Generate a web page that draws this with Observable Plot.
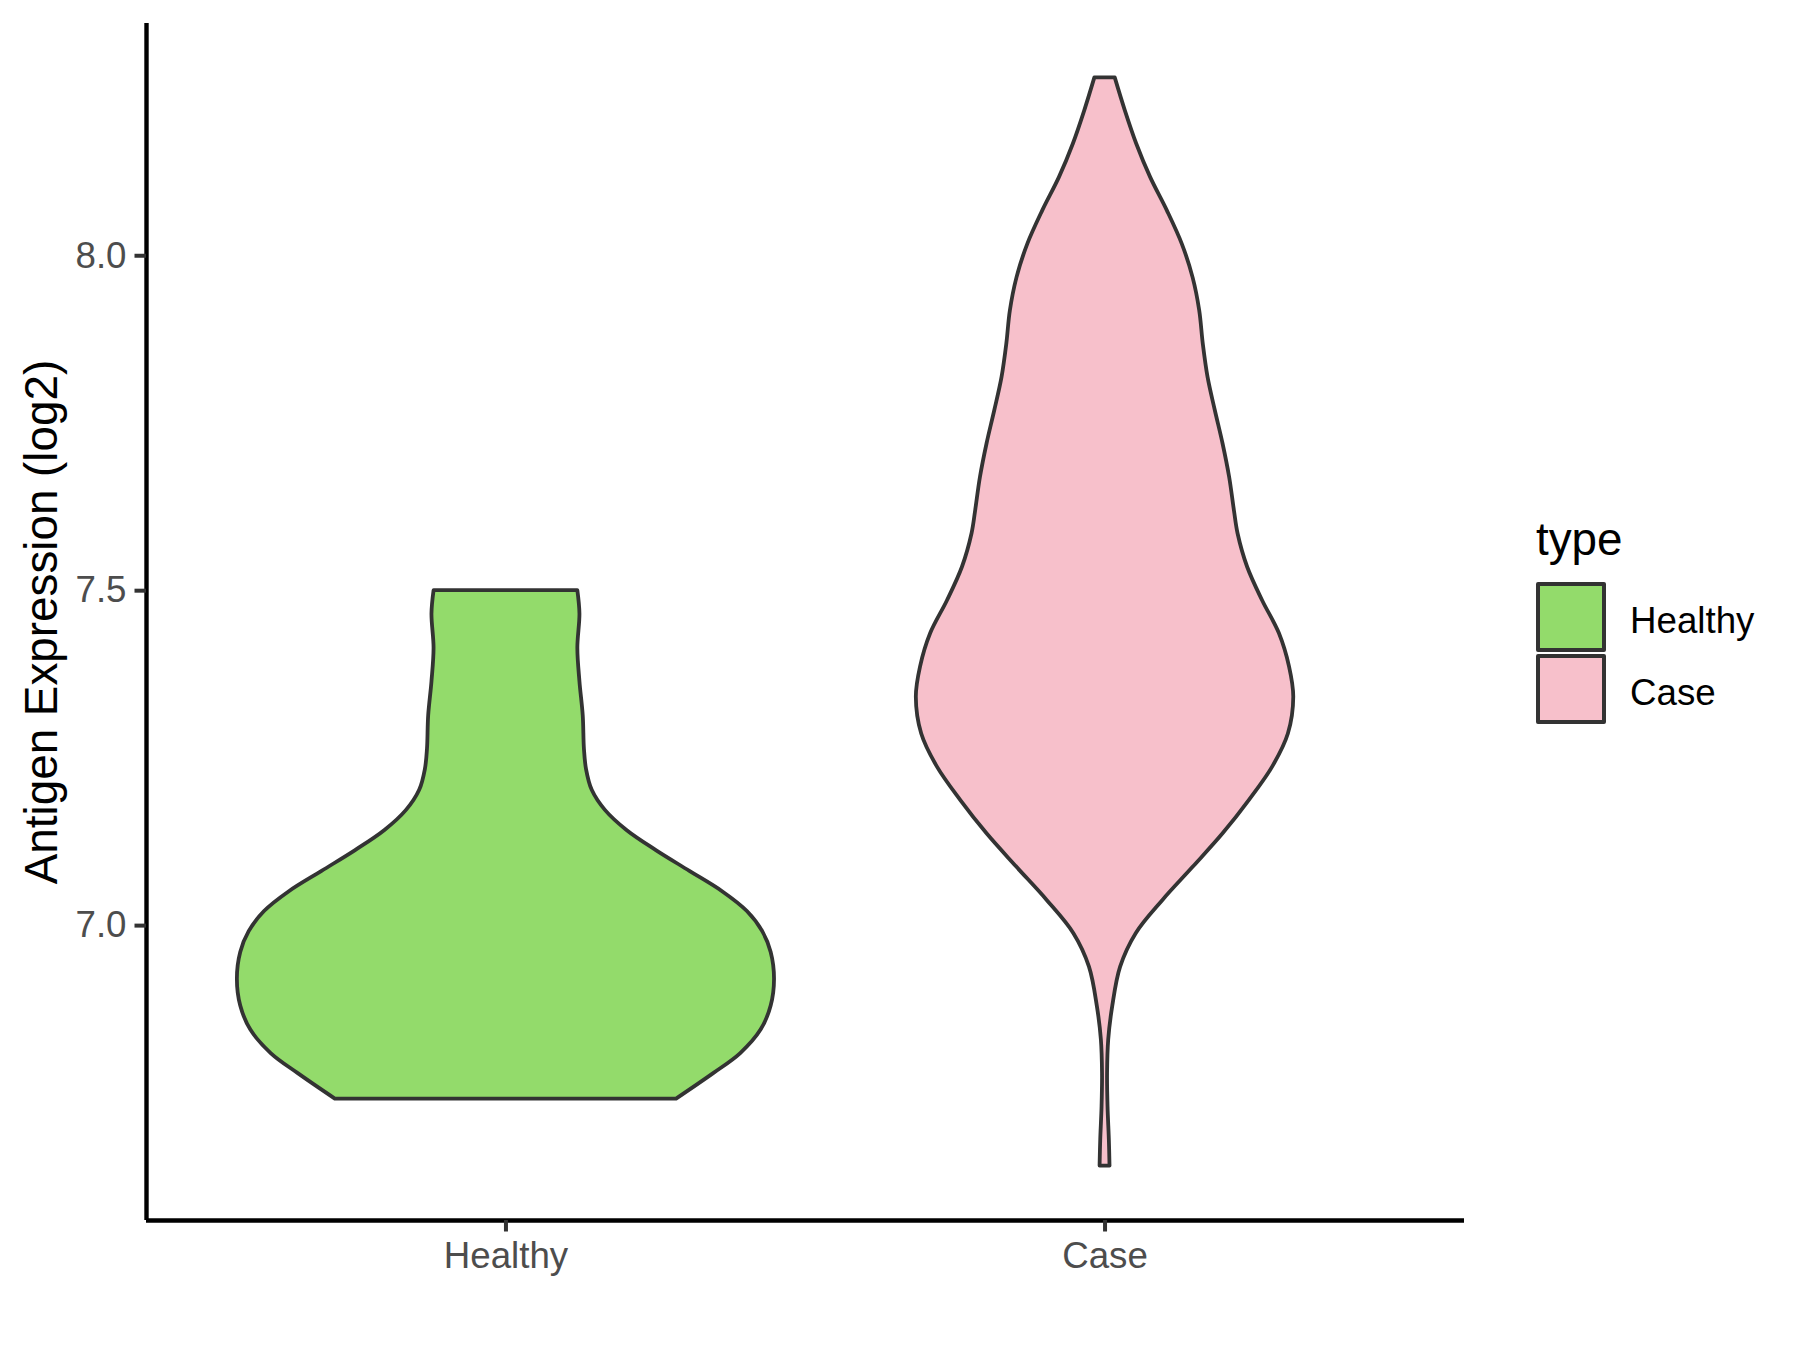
<!DOCTYPE html>
<html>
<head>
<meta charset="utf-8">
<script src="https://cdn.jsdelivr.net/npm/d3@7"></script>
<script src="https://cdn.jsdelivr.net/npm/@observablehq/plot@0.6"></script>
<style>
  html, body { margin: 0; padding: 0; background: #fff; }
  #wrap { position: relative; width: 1800px; height: 1350px; font-family: "Liberation Sans", Arial, sans-serif; }
  #legend { position: absolute; left: 1536px; top: 500px; }
  .lg-title { position: absolute; left: 0; top: 17px; font-size: 45.8px; color: #000; white-space: nowrap; line-height: 1; }
  .lg-key { position: absolute; left: 0; width: 70px; height: 70px; box-sizing: border-box; border: 4px solid #333; border-radius: 2px; }
  .lg-label { position: absolute; left: 94px; font-size: 36.7px; color: #000; line-height: 1; white-space: nowrap; }
</style>
</head>
<body>
<div id="wrap"></div>
<script>
// ---- data ----
const categories = ["Healthy", "Case"];
const fillColors = ["#93DB6B", "#F7C0CB"];
const yTicks = [7.0, 7.5, 8.0];
const yTitle = "Antigen Expression (log2)";
const legendTitle = "type";

// violin outlines: expression value and half-width of the density
const healthyY  = [7.500, 7.465, 7.414, 7.364, 7.313, 7.263, 7.233, 7.202, 7.172, 7.142, 7.112, 7.081, 7.051, 7.021, 6.991, 6.960, 6.920, 6.880, 6.844, 6.809, 6.779, 6.741];
const healthyHW = [0.120, 0.1235, 0.120, 0.1235, 0.129, 0.131, 0.1345, 0.144, 0.166, 0.202, 0.251, 0.307, 0.361, 0.403, 0.4286, 0.4427, 0.4483, 0.4427, 0.4258, 0.3919, 0.3467, 0.2848];

const caseY  = [8.2655, 8.216, 8.1665, 8.117, 8.067, 8.017, 7.967, 7.918, 7.868, 7.818, 7.769, 7.719, 7.669, 7.619, 7.585, 7.535, 7.485, 7.436, 7.386, 7.341, 7.286, 7.237, 7.187, 7.137, 7.087, 7.038, 6.988, 6.938, 6.879, 6.829, 6.779, 6.729, 6.680, 6.641];
const caseHW = [0.017, 0.034, 0.053, 0.076, 0.104, 0.129, 0.147, 0.158, 0.164, 0.172, 0.184, 0.197, 0.208, 0.216, 0.222, 0.238, 0.263, 0.291, 0.308, 0.315, 0.306, 0.280, 0.241, 0.197, 0.147, 0.097, 0.052, 0.026, 0.0128, 0.0061, 0.0042, 0.005, 0.0072, 0.0083];

// ---- build table ----
const positions = categories.map((_, i) => i + 1);
const profiles = [[healthyY, healthyHW], [caseY, caseHW]];
const rows = [];
profiles.forEach(([ys, hws], i) => {
  ys.forEach((y, j) => rows.push({type: categories[i], y, x1: positions[i] - hws[j], x2: positions[i] + hws[j]}));
});

const allY = healthyY.concat(caseY);
const yMin = d3.min(allY), yMax = d3.max(allY);
const yPad = (yMax - yMin) * 0.05;
const yDomain = [yMin - yPad, yMax + yPad];
const xDomain = [positions[0] - 0.6, positions[positions.length - 1] + 0.6];

const font = '"Liberation Sans", Arial, sans-serif';

const chart = Plot.plot({
  width: 1800,
  height: 1350,
  marginLeft: 146,
  marginRight: 336,
  marginTop: 23,
  marginBottom: 130,
  style: {fontFamily: font, background: "#fff"},
  x: {domain: xDomain},
  y: {domain: yDomain},
  color: {domain: categories, range: fillColors},
  marks: [
    Plot.areaX(rows, {y: "y", x1: "x1", x2: "x2", z: "type", fill: "type", stroke: "#333333", strokeWidth: 3.8, curve: "catmull-rom"}),
    Plot.ruleX([xDomain[0]], {stroke: "#000", strokeWidth: 4.4}),
    Plot.ruleY([yDomain[0]], {stroke: "#000", strokeWidth: 4.4}),
    Plot.axisY({ticks: yTicks, tickFormat: d3.format(".1f"), tickSize: 11.5, tickPadding: 8.5, fontSize: 36.7, stroke: "#333", strokeWidth: 4, fill: "#4D4D4D", label: null}),
    Plot.axisX({ticks: positions, tickFormat: (d) => categories[d - 1], tickSize: 11.5, tickPadding: 10, fontSize: 36.7, stroke: "#333", strokeWidth: 4, fill: "#4D4D4D", label: null}),
    Plot.text([yTitle], {frameAnchor: "left", dx: -104, rotate: -90, fontSize: 45.8, fill: "#000", textAnchor: "middle", lineAnchor: "middle"})
  ]
});

const wrap = document.getElementById("wrap");
wrap.appendChild(chart);

// legend (HTML, right of the panel)
const legend = document.createElement("div");
legend.id = "legend";
const t = document.createElement("div");
t.className = "lg-title";
t.textContent = legendTitle;
legend.appendChild(t);
categories.forEach((c, i) => {
  const k = document.createElement("div");
  k.className = "lg-key";
  k.style.top = (82 + i * 72) + "px";
  k.style.background = fillColors[i];
  legend.appendChild(k);
  const l = document.createElement("div");
  l.className = "lg-label";
  l.style.top = (82 + i * 72 + 35 - 14) + "px";
  l.textContent = c;
  legend.appendChild(l);
});
wrap.appendChild(legend);
</script>
</body>
</html>
